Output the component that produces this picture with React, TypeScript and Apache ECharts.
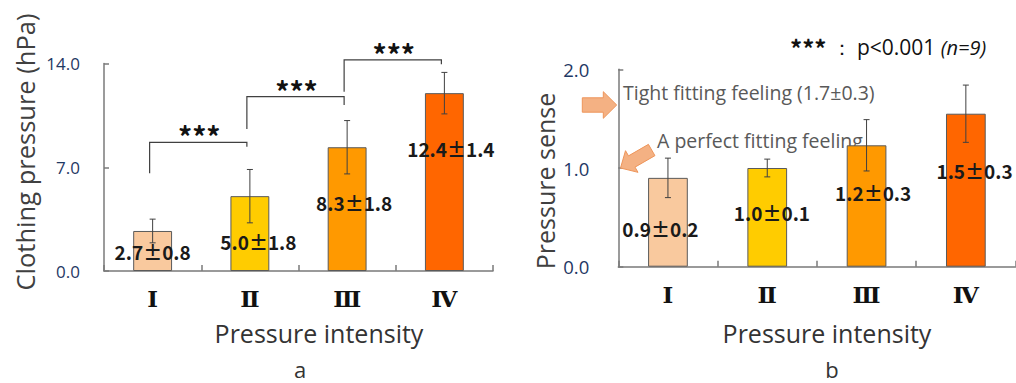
import React, { useEffect, useRef } from "react";
import * as echarts from "echarts";

// ---------- data ----------
const categories = ["Ⅰ", "Ⅱ", "Ⅲ", "Ⅳ"];
const pressureMean = [2.7, 5.05, 8.35, 12.0];
const pressureSD = [0.8, 1.8, 1.8, 1.4];
const pressureLabels = ["2.7±0.8", "5.0±1.8", "8.3±1.8", "12.4±1.4"];
const senseMean = [0.9, 1.0, 1.23, 1.55];
const senseSD = [0.2, 0.09, 0.26, 0.29];
const senseLabels = ["0.9±0.2", "1.0±0.1", "1.2±0.3", "1.5±0.3"];
const pressureAxis = { min: 0, max: 14, interval: 7 };
const senseAxis = { min: 0, max: 2, interval: 1 };
// significance brackets: [fromCategory, toCategory, bracketLevel, leftLegEnd, rightLegEnd]
const brackets = [
  [0, 1, 8.68, 6.59, 8.39],
  [1, 2, 11.76, 9.58, 11.2],
  [2, 3, 14.24, 12.1, 13.95],
];
const sigMark = "***";

// ---------- style / layout ----------
const CJK = "'Noto Sans CJK JP', 'Noto Sans', sans-serif";
const SANS = "'Open Sans', 'Noto Sans', sans-serif";
const barColors = ["#F9C99E", "#FFCC00", "#FF9900", "#FF6600"];
const leftLabelOffsets = [[0, 21], [8.5, 45.7], [7, 55.6], [6.5, 55.8]];
const rightLabelOffsets = [[-7.5, 50.6], [4.7, 44], [6.6, 47.3], [8.7, 56.7]];
const AXIS_COLOR = "#7a7a7a";
const ERR_COLOR = "#404040";

function arrowPoints(tx: number, ty: number, angDeg: number, len: number, headLen: number, headHalf: number, shaftHalf: number) {
  const a = (angDeg * Math.PI) / 180;
  const d = [Math.cos(a), Math.sin(a)];
  const n = [-Math.sin(a), Math.cos(a)];
  const tail = [tx - d[0] * len, ty - d[1] * len];
  const hb = [tx - d[0] * headLen, ty - d[1] * headLen];
  const p = (b: number[], s: number) => [b[0] + n[0] * s, b[1] + n[1] * s];
  return [p(tail, shaftHalf), p(hb, shaftHalf), p(hb, headHalf), [tx, ty], p(hb, -headHalf), p(hb, -shaftHalf), p(tail, -shaftHalf)];
}

function barSeries(values: number[], labels: string[], offsets: number[][], axisIdx: number, labelSize: number) {
  return {
    type: "bar",
    xAxisIndex: axisIdx,
    yAxisIndex: axisIdx,
    barWidth: "40%",
    data: values.map((v, i) => ({
      value: v,
      itemStyle: { color: barColors[i], borderColor: "#5a5a5a", borderWidth: 1 },
      label: {
        show: true,
        position: ["50%", offsets[i][1]],
        offset: [offsets[i][0], 0],
        align: "center",
        verticalAlign: "middle",
        formatter: labels[i],
        fontFamily: CJK,
        fontWeight: "bold",
        fontSize: labelSize,
        color: "#1a1a1a",
      },
    })),
    z: 2,
  };
}

function errorSeries(mean: number[], sd: number[], axisIdx: number) {
  return {
    type: "custom",
    xAxisIndex: axisIdx,
    yAxisIndex: axisIdx,
    silent: true,
    z: 3,
    encode: { x: 0, y: [1, 2] },
    data: mean.map((m, i) => [i, m - sd[i], m + sd[i]]),
    renderItem: (_p: any, api: any) => {
      const lo = api.coord([api.value(0), api.value(1)]);
      const hi = api.coord([api.value(0), api.value(2)]);
      const w = 3;
      const style = { stroke: ERR_COLOR, lineWidth: 1 };
      return {
        type: "group",
        children: [
          { type: "line", shape: { x1: hi[0], y1: hi[1], x2: lo[0], y2: lo[1] }, style },
          { type: "line", shape: { x1: hi[0] - w, y1: hi[1], x2: hi[0] + w, y2: hi[1] }, style },
          { type: "line", shape: { x1: lo[0] - w, y1: lo[1], x2: lo[0] + w, y2: lo[1] }, style },
        ],
      };
    },
  };
}

function bracketSeries() {
  return {
    type: "custom",
    xAxisIndex: 0,
    yAxisIndex: 0,
    silent: true,
    z: 4,
    clip: false,
    encode: { x: [0, 1], y: [2, 3, 4] },
    data: brackets,
    renderItem: (_p: any, api: any) => {
      const a = api.coord([api.value(0), api.value(2)]);
      const b = api.coord([api.value(1), api.value(2)]);
      const l = api.coord([api.value(0), api.value(3)]);
      const r = api.coord([api.value(1), api.value(4)]);
      return {
        type: "group",
        children: [
          {
            type: "polyline",
            shape: { points: [[l[0] - 3, l[1]], [a[0] - 3, a[1]], [b[0] - 3, b[1]], [r[0] - 3, r[1]]] },
            style: { stroke: ERR_COLOR, lineWidth: 1.2, fill: null },
          },
          {
            type: "text",
            x: (a[0] + b[0]) / 2 - 2,
            y: a[1] - 6,
            style: {
              text: sigMark,
              align: "center",
              verticalAlign: "middle",
              fontFamily: CJK,
              fontWeight: "bold",
              fontSize: 28,
              fill: "#111",
            },
          },
        ],
      };
    },
  };
}

function xAxisCfg(gridIndex: number) {
  return {
    type: "category",
    gridIndex,
    data: categories,
    axisLine: { lineStyle: { color: AXIS_COLOR, width: 1.5 } },
    axisTick: { show: true, inside: true, length: 6, lineStyle: { color: AXIS_COLOR, width: 1.5 } },
    axisLabel: {
      margin: 16,
      fontFamily: "'DejaVu Serif', 'Liberation Serif', serif",
      fontWeight: "bold",
      fontSize: 23,
      color: "#111",
    },
  };
}

function yAxisCfg(gridIndex: number, ax: { min: number; max: number; interval: number }, margin: number, size: number) {
  return {
    type: "value",
    gridIndex,
    min: ax.min,
    max: ax.max,
    interval: ax.interval,
    splitLine: { show: false },
    axisLine: { show: true, lineStyle: { color: AXIS_COLOR, width: 1.5 } },
    axisTick: { show: true, inside: true, length: 5, lineStyle: { color: AXIS_COLOR, width: 1.5 } },
    axisLabel: {
      margin,
      formatter: (v: number) => v.toFixed(1),
      fontFamily: SANS,
      fontSize: size,
      color: "#1F3864",
    },
  };
}

function txt(x: number, y: number, text: string, size: number, extra: any = {}) {
  return {
    type: "text",
    x,
    y,
    rotation: extra.rotation || 0,
    style: {
      text,
      fontFamily: extra.fontFamily || SANS,
      fontSize: size,
      fill: extra.fill || "#333",
      fontWeight: extra.fontWeight || "normal",
      align: extra.align || "center",
      verticalAlign: "middle",
    },
  };
}

export default function App() {
  const ref = useRef<HTMLDivElement>(null);
  useEffect(() => {
    document.body.style.margin = "0";
    if (!ref.current) return;
    const chart = echarts.init(ref.current, undefined, { renderer: "svg" });
    const arrowStyle = { fill: "#F4B183", stroke: "#EE955A", lineWidth: 1 };
    chart.setOption({
      animation: false,
      backgroundColor: "#ffffff",
      grid: [
        { left: 104, top: 63.5, width: 389, height: 207.5 },
        { left: 618.3, top: 69.3, width: 397.2, height: 197.4 },
      ],
      xAxis: [xAxisCfg(0), xAxisCfg(1)],
      yAxis: [yAxisCfg(0, pressureAxis, 24, 17), yAxisCfg(1, senseAxis, 29, 18.5)],
      series: [
        barSeries(pressureMean, pressureLabels, leftLabelOffsets, 0, 19),
        errorSeries(pressureMean, pressureSD, 0),
        bracketSeries(),
        barSeries(senseMean, senseLabels, rightLabelOffsets, 1, 19),
        errorSeries(senseMean, senseSD, 1),
      ],
      graphic: [
        txt(25, 152, "Clothing pressure (hPa)", 25.5, { rotation: Math.PI / 2, fill: "#404040" }),
        txt(545, 181, "Pressure sense", 25, { rotation: Math.PI / 2, fill: "#404040" }),
        txt(319, 333, "Pressure intensity", 25, { fill: "#333" }),
        txt(827, 333, "Pressure intensity", 25, { fill: "#333" }),
        txt(300, 369, "a", 22, { fill: "#333" }),
        txt(832, 369, "b", 22, { fill: "#333" }),
        txt(623, 92, "Tight fitting feeling (1.7±0.3)", 19.5, { align: "left", fill: "#595959" }),
        txt(657, 140, "A perfect fitting feeling", 19.5, { align: "left", fill: "#595959" }),
        {
          type: "text",
          x: 790,
          y: 47,
          style: {
            text: "{s|***}{t| ： }{p|p<0.001 }{n|(n=9)}",
            verticalAlign: "middle",
            align: "left",
            rich: {
              s: { fontFamily: CJK, fontWeight: "bold", fontSize: 24, fill: "#111" },
              t: { fontFamily: SANS, fontSize: 20, fill: "#111" },
              p: { fontFamily: SANS, fontSize: 21, fill: "#111" },
              n: { fontFamily: SANS, fontStyle: "italic", fontSize: 20, fill: "#111" },
            },
          },
        },
        { type: "polygon", shape: { points: arrowPoints(616.7, 105, 0, 34.4, 13.4, 13.3, 7.2) }, style: arrowStyle, z: 10 },
        { type: "polygon", shape: { points: arrowPoints(620.5, 168, 150, 36, 13, 12.5, 6.5) }, style: arrowStyle, z: 10 },
      ],
    });
    return () => chart.dispose();
  }, []);
  return <div ref={ref} style={{ width: 1016, height: 383 }} />;
}
